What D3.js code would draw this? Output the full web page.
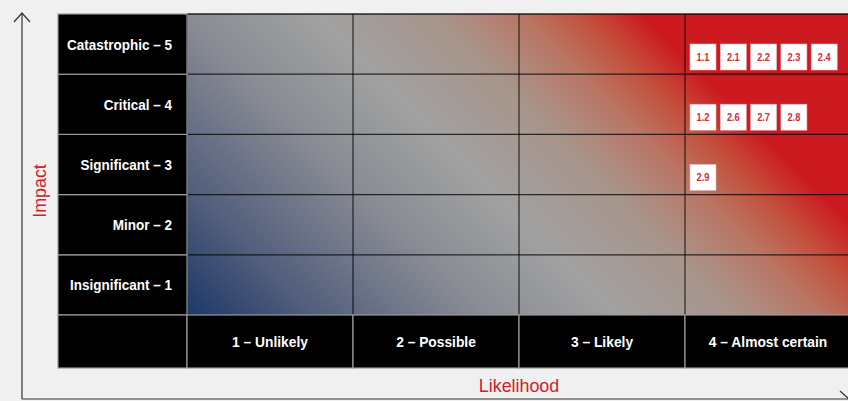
<!DOCTYPE html>
<head>
  <meta charset="utf-8">
  <script src="https://d3js.org/d3.v7.min.js"></script>
  <style>
    html, body { margin: 0; padding: 0; background: #f0f0f0; }
    svg { display: block; }
    .cellLabel {
        font-family: 'Liberation Sans', Arial, sans-serif;
        font-weight: 700;
        font-size: 15px;
        fill: #ffffff;
    }
    .axisTitle {
        font-family: 'Liberation Sans', Arial, sans-serif;
        font-size: 19px;
        fill: #d0202a;
    }
    .riskId {
        font-family: 'Liberation Sans', Arial, sans-serif;
        font-weight: 700;
        font-size: 10px;
        fill: #d4283a;
    }
  </style>
</head>

<body>
<div id="matrix"></div>

<script>

// categories
const likelihood = ["1 – Unlikely", "2 – Possible", "3 – Likely", "4 – Almost certain"];
const impact = ["Insignificant – 1", "Minor – 2", "Significant – 3", "Critical – 4", "Catastrophic – 5"];

// risks: id, likelihood index (1-4), impact index (1-5)
const riskIds    = ["1.1", "2.1", "2.2", "2.3", "2.4", "1.2", "2.6", "2.7", "2.8", "2.9"];
const riskLikely = [4, 4, 4, 4, 4, 4, 4, 4, 4, 4];
const riskImpact = [5, 5, 5, 5, 5, 4, 4, 4, 4, 3];

const risks = riskIds.map((id, i) => ({ id: id, l: riskLikely[i], im: riskImpact[i] }));
// position of each risk inside its cell
const slot = {};
risks.forEach(d => {
    const k = d.l + "_" + d.im;
    slot[k] = (slot[k] || 0);
    d.slot = slot[k]++;
});

const width = 848, height = 401;
const squeeze = 0.9; // condensed look for the labels

const svg = d3.select("#matrix").append("svg")
    .attr("width", width)
    .attr("height", height);

const x = d3.scaleBand().domain(likelihood).range([187, 851]);
const y = d3.scaleBand().domain(impact.slice().reverse()).range([14, 315]);
const labelLeft = 58, bottomRow = 368;

///////////////////////////// gradient /////////////////////////////
const defs = svg.append("defs");
const grad = defs.append("linearGradient")
    .attr("id", "riskGrad")
    .attr("gradientUnits", "userSpaceOnUse")
    .attr("x1", 187).attr("y1", 315)
    .attr("x2", 668).attr("y2", -166);

[[0, "#1d3868"], [0.133, "#525e7c"], [0.31, "#898c94"], [0.445, "#a1a1a1"],
 [0.57, "#a8958b"], [0.663, "#ba7462"], [0.725, "#c44e3b"], [0.785, "#cc1a20"], [1, "#cc1a20"]]
    .forEach(s => grad.append("stop").attr("offset", s[0]).attr("stop-color", s[1]));

svg.append("rect")
    .attr("x", x.range()[0]).attr("y", y.range()[0])
    .attr("width", x.range()[1] - x.range()[0])
    .attr("height", y.range()[1] - y.range()[0])
    .attr("fill", "url(#riskGrad)");

// grid lines inside coloured area
const grid = svg.append("g")
    .attr("stroke", "#000").attr("stroke-opacity", 0.75).attr("stroke-width", 1.2);
likelihood.forEach(c => {
    grid.append("line")
        .attr("x1", x(c)).attr("x2", x(c))
        .attr("y1", y.range()[0]).attr("y2", y.range()[1]);
});
impact.forEach(r => {
    grid.append("line")
        .attr("x1", x.range()[0]).attr("x2", width)
        .attr("y1", y(r)).attr("y2", y(r));
});
grid.append("line")
    .attr("x1", x.range()[0]).attr("x2", width)
    .attr("y1", y.range()[0]).attr("y2", y.range()[0]);

///////////////////////////// label cells /////////////////////////////
svg.selectAll(".rowCell")
    .data(impact)
    .enter().append("rect")
    .attr("x", labelLeft)
    .attr("y", d => y(d))
    .attr("width", x.range()[0] - labelLeft)
    .attr("height", y.bandwidth())
    .attr("fill", "#000")
    .attr("stroke", "#9a9a9a")
    .attr("stroke-width", 1.2);

svg.selectAll(".rowLabel")
    .data(impact)
    .enter().append("text")
    .attr("class", "cellLabel")
    .attr("transform", d => "translate(172," + (y(d) + y.bandwidth() / 2 + 5.5) + ") scale(" + squeeze + ",1)")
    .attr("text-anchor", "end")
    .text(d => d);

svg.append("rect")
    .attr("x", labelLeft).attr("y", y.range()[1])
    .attr("width", x.range()[0] - labelLeft).attr("height", bottomRow - y.range()[1])
    .attr("fill", "#000").attr("stroke", "#9a9a9a").attr("stroke-width", 1.2);

svg.selectAll(".colCell")
    .data(likelihood)
    .enter().append("rect")
    .attr("x", d => x(d))
    .attr("y", y.range()[1])
    .attr("width", x.bandwidth())
    .attr("height", bottomRow - y.range()[1])
    .attr("fill", "#000")
    .attr("stroke", "#9a9a9a")
    .attr("stroke-width", 1.2);

svg.selectAll(".colLabel")
    .data(likelihood)
    .enter().append("text")
    .attr("class", "cellLabel")
    .attr("transform", d => "translate(" + (x(d) + x.bandwidth() / 2) + "," +
        ((y.range()[1] + bottomRow) / 2 + 5.5) + ") scale(0.92,1)")
    .attr("text-anchor", "middle")
    .text(d => d);

///////////////////////////// risk boxes /////////////////////////////
const box = 26, pitch = 30.3;
const rb = svg.selectAll(".risk")
    .data(risks)
    .enter().append("g")
    .attr("transform", d => "translate(" + (x(likelihood[d.l - 1]) + 5 + d.slot * pitch) + "," +
        (y(impact[d.im - 1]) + 30) + ")");
rb.append("rect")
    .attr("width", box).attr("height", box)
    .attr("fill", "#fff")
    .attr("stroke", "#e8b8bc").attr("stroke-width", 0.6);
rb.append("text")
    .attr("class", "riskId")
    .attr("transform", "translate(" + (box / 2) + "," + (box / 2 + 3.5) + ") scale(0.92,1)")
    .attr("text-anchor", "middle")
    .text(d => d.id);

///////////////////////////// axes /////////////////////////////
const ax = svg.append("g").attr("stroke", "#333").attr("stroke-width", 1.2).attr("fill", "none");
ax.append("line").attr("x1", 22).attr("x2", 22).attr("y1", 13).attr("y2", 399);
ax.append("polyline").attr("points", "14,22 22,13 30,22");
ax.append("line").attr("x1", 22).attr("x2", width).attr("y1", 399).attr("y2", 399);
ax.append("polyline").attr("points", "840,391 849,399");

svg.append("text")
    .attr("class", "axisTitle")
    .attr("transform", "translate(46,191) rotate(-90) scale(0.94,1)")
    .attr("text-anchor", "middle")
    .text("Impact");

svg.append("text")
    .attr("class", "axisTitle")
    .attr("transform", "translate(" + (x.range()[0] + (x.range()[1] - x.range()[0]) / 2) + ",392) scale(0.94,1)")
    .attr("text-anchor", "middle")
    .text("Likelihood");

</script>
</body>
